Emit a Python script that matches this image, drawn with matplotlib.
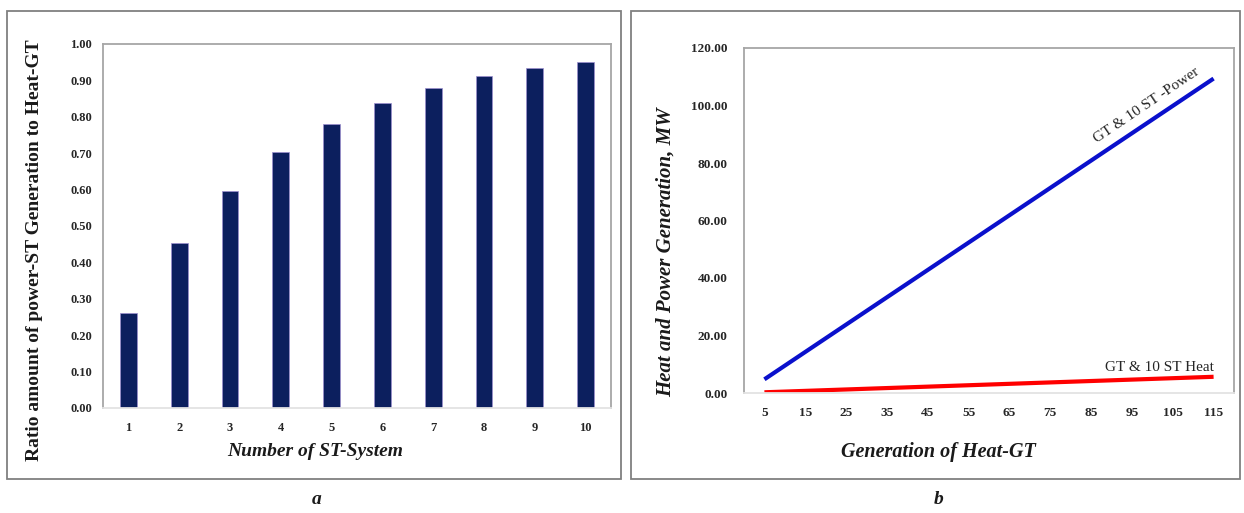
import matplotlib
matplotlib.use('Agg')
from matplotlib import pyplot as plt
from matplotlib.patches import Rectangle
import numpy as np

plt.rcParams['font.family'] = ['Liberation Serif', 'DejaVu Serif']

# panel a: ratio of ST power to GT heat for each number of ST units
st_count = [1, 2, 3, 4, 5, 6, 7, 8, 9, 10]
ratio = [0.26, 0.453, 0.597, 0.702, 0.780, 0.837, 0.880, 0.911, 0.935, 0.951]

# panel b: heat and power of GT & 10 ST against GT heat
heat_gt = [5, 15, 25, 35, 45, 55, 65, 75, 85, 95, 105, 115]
power_10st = [4.76, 14.27, 23.78, 33.29, 42.80, 52.31, 61.82, 71.33, 80.84, 90.35, 99.86, 109.37]
heat_10st = [0.25, 0.74, 1.23, 1.72, 2.21, 2.70, 3.19, 3.68, 4.17, 4.66, 5.15, 5.64]

W, H = 1244, 513
fig = plt.figure(figsize=(W / 100, H / 100), dpi=100)
fig.patch.set_facecolor('white')

def px(x, y):
    return x / W, 1 - y / H

# outer frames round each panel
for x0, x1 in [(7, 621), (631, 1240)]:
    fig.patches.append(Rectangle(px(x0, 479), (x1 - x0) / W, (479 - 11) / H,
                                 transform=fig.transFigure, fill=False,
                                 edgecolor='#808080', lw=1.3))

def style_axes(ax, size):
    for s in ['left', 'top', 'right']:
        ax.spines[s].set_color('#a6a6a6')
        ax.spines[s].set_linewidth(1.3)
    ax.spines['bottom'].set_color('#e3e3e3')
    ax.spines['bottom'].set_linewidth(1.3)
    ax.tick_params(length=0, labelsize=size, colors='#262626')
    for t in ax.get_xticklabels() + ax.get_yticklabels():
        t.set_fontweight('bold')

# ---- a ----
ax1 = fig.add_axes([103 / W, 1 - 408 / H, (611 - 103) / W, (408 - 44) / H])
ax1.bar(st_count, ratio, width=0.33, color='#0c1f5e', edgecolor='#9c8fd0', linewidth=0.5)
ax1.set_xlim(0.5, 10.5)
ax1.set_ylim(0, 1.0)
ax1.set_xticks(st_count)
ax1.set_yticks(np.arange(0, 1.01, 0.1))
ax1.set_yticklabels(['%.2f' % v for v in np.arange(0, 1.01, 0.1)])
ax1.tick_params(axis='x', pad=10)
ax1.tick_params(axis='y', pad=8)
style_axes(ax1, 9)

fig.text(*px(35, 250), 'Ratio amount of power-ST Generation to Heat-GT', rotation=90,
         ha='center', va='center', fontsize=14, fontweight='bold', color='#1a1a1a')
fig.text(*px(315, 452), 'Number of ST-System', ha='center', va='center',
         fontsize=14, fontweight='bold', style='italic', color='#1a1a1a')
fig.text(*px(317, 500), 'a', ha='center', va='center',
         fontsize=14, fontweight='bold', style='italic', color='#1a1a1a')

# ---- b ----
ax2 = fig.add_axes([744 / W, 1 - 393 / H, (1234 - 744) / W, (393 - 48) / H])
pos = np.arange(len(heat_gt))
ax2.plot(pos, power_10st, color='#0a10cc', lw=3.0, solid_capstyle='butt')
ax2.plot(pos, heat_10st, color='#ff0000', lw=3.0, solid_capstyle='butt')
ax2.set_xlim(-0.5, len(heat_gt) - 0.5)
ax2.set_ylim(0, 120)
ax2.set_xticks(pos)
ax2.set_xticklabels([str(v) for v in heat_gt])
ax2.set_yticks(np.arange(0, 121, 20))
ax2.set_yticklabels(['%.2f' % v for v in np.arange(0, 121, 20)])
ax2.tick_params(axis='x', pad=10)
ax2.tick_params(axis='y', pad=12)
style_axes(ax2, 9.5)

ax2.text(9.35, 100.0, 'GT & 10 ST -Power', rotation=34, ha='center', va='center',
         fontsize=11, color='#262626')
ax2.text(11, 9.0, 'GT & 10 ST Heat', ha='right', va='center',
         fontsize=11, color='#262626')

fig.text(*px(666, 252), 'Heat and Power Generation, MW', rotation=90,
         ha='center', va='center', fontsize=15, fontweight='bold', style='italic', color='#1a1a1a')
fig.text(*px(938, 452), 'Generation of Heat-GT', ha='center', va='center',
         fontsize=14.5, fontweight='bold', style='italic', color='#1a1a1a')
fig.text(*px(939, 500), 'b', ha='center', va='center',
         fontsize=14, fontweight='bold', style='italic', color='#1a1a1a')

fig.savefig('out.png', dpi=100)
